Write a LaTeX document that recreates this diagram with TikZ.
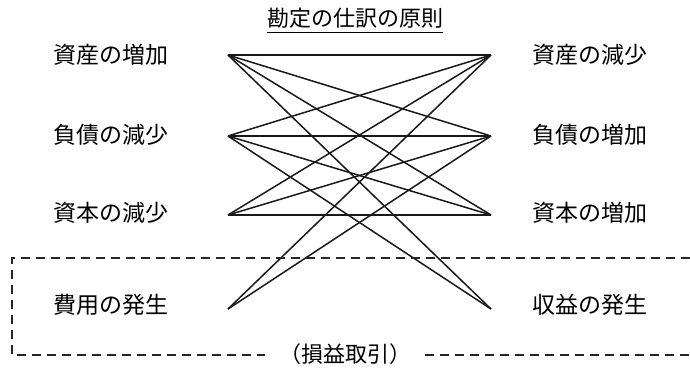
\documentclass[tikz,border=0pt]{standalone}
\usepackage{fontspec}
\setmainfont{Noto Sans CJK JP}
\begin{document}
\begin{tikzpicture}[x=1pt,y=-1pt,
  lbl/.style={font=\fontsize{23}{26}\selectfont, inner sep=0pt},
  edge/.style={line width=1.5pt, black!90},
  dashline/.style={line width=1.3pt, dash pattern=on 9pt off 6pt, black!85}]
\useasboundingbox (0,0) rectangle (690,370);
% title
\node[lbl, font=\fontsize{22}{25}\selectfont] (title) at (355,18) {勘定の仕訳の原則};
\draw[line width=1pt] ([yshift=-4pt]title.south west) -- ([yshift=-4pt]title.south east);
% labels
\node[lbl] (tl1) at (111,55) {資産の増加};
\node[lbl] (tl2) at (111,135) {負債の減少};
\node[lbl] (tl3) at (111,213) {資本の減少};
\node[lbl] (tl4) at (111,305) {費用の発生};
\node[lbl] (tr1) at (590,55) {資産の減少};
\node[lbl] (tr2) at (590,135) {負債の増加};
\node[lbl] (tr3) at (590,213) {資本の増加};
\node[lbl] (tr4) at (590,305) {収益の発生};
% end points
\coordinate (L1) at (228,55);
\coordinate (L2) at (228,136);
\coordinate (L3) at (228,215);
\coordinate (L4) at (228,309);
\coordinate (R1) at (491,55);
\coordinate (R2) at (491,136);
\coordinate (R3) at (491,215);
\coordinate (R4) at (491,309);
\foreach \r in {R1,R2,R3,R4} \draw[edge] (L1) -- (\r);
\foreach \r in {R1,R2,R3,R4} \draw[edge] (L2) -- (\r);
\foreach \r in {R1,R2,R3} \draw[edge] (L3) -- (\r);
\foreach \r in {R1,R2} \draw[edge] (L4) -- (\r);
% dashed region
\node[lbl, font=\fontsize{22}{25}\selectfont] (pl) at (345,354) {（損益取引）};
\coordinate (dTR) at (690,258);
\coordinate (dTL) at (12,258);
\coordinate (dBL) at (12,355);
\coordinate (dBR) at (690,355);
\draw[dashline] (dTR) -- (dTL) -- (dBL) -- ([xshift=-14pt]pl.west |- dBL);
\draw[dashline] ([xshift=14pt]pl.east |- dBR) -- (dBR);
\end{tikzpicture}
\end{document}
